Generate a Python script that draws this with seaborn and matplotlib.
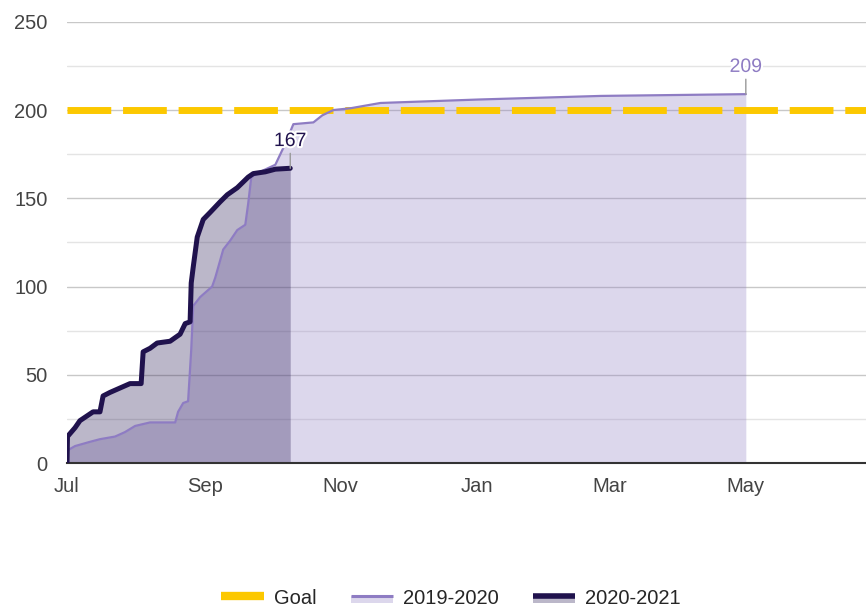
import matplotlib
matplotlib.use("Agg")
import matplotlib.pyplot as plt
import matplotlib.dates as mdates
import matplotlib.patheffects as pe
from matplotlib.lines import Line2D
from matplotlib.patches import Rectangle
import pandas as pd
import seaborn as sns

# days since Jul 1 of the season and cumulative totals
days_2019 = [0, 3.6, 10.3, 14.8, 21.6, 26, 30.6, 37.3, 48.6, 49.9, 52.2, 54.4,
             55.8, 56.7, 59.8, 65.2, 66.6, 70.2, 73.3, 76.5, 80.1, 81.4, 82.8,
             86.8, 93.6, 98.1, 101.7, 110.7, 114.7, 119.7, 127.3, 140.8, 185.8,
             239.8, 305]
vals_2019 = [7, 9.6, 12, 13.5, 15, 17.5, 21, 23, 23, 29, 34, 35,
             64, 89, 94, 100, 105, 121, 126, 132, 135, 147, 162,
             165, 169, 181, 192, 193, 197, 200, 201, 204, 206,
             208, 209]
days_2020 = [0, 0.2, 3.6, 5.8, 11.7, 14.8, 16.2, 19.3, 22.9, 28.3, 33.3, 34.2,
             37.3, 40.5, 46.3, 50.8, 53.1, 55.3, 55.8, 56.7, 58.5, 61.2, 64.3,
             68.8, 72, 76.5, 81.4, 83.7, 89.1, 93.6, 100.3]
vals_2020 = [0, 15, 20, 24, 29, 29, 38, 40, 42, 45, 45, 63,
             65, 68, 69, 73, 79, 80, 102, 111, 128, 138, 142,
             148, 152, 156, 162, 164, 165, 166.5, 167]
goal = 200
series_names = ["Goal", "2019-2020", "2020-2021"]

season_start = pd.Timestamp("2019-07-01")
df19 = pd.DataFrame({"date": season_start + pd.to_timedelta(days_2019, unit="D"),
                     "value": vals_2019})
df20 = pd.DataFrame({"date": season_start + pd.to_timedelta(days_2020, unit="D"),
                     "value": vals_2020})

c_goal = "#fcc800"
c_19 = "#8e7cc3"
c_20 = "#20124d"


class AreaLineHandler:
    """Legend key: a line sitting on top of a faded band, like the area series."""

    def __init__(self, color, lw):
        self.color = color
        self.lw = lw

    def legend_artist(self, legend, orig_handle, fontsize, handlebox):
        x0, y0 = handlebox.xdescent, handlebox.ydescent
        w, h = handlebox.width, handlebox.height
        mid = y0 + h / 2
        band = Rectangle((x0, mid - 4.5), w, 4.5, facecolor=self.color,
                         alpha=0.3, lw=0, transform=handlebox.get_transform())
        line = Line2D([x0, x0 + w], [mid + 0.5, mid + 0.5], color=self.color,
                      lw=self.lw, solid_capstyle="butt",
                      transform=handlebox.get_transform())
        handlebox.add_artist(band)
        handlebox.add_artist(line)
        return line


sns.set_theme(style="white")
plt.rcParams["font.family"] = ["Liberation Sans", "DejaVu Sans"]

fig = plt.figure(figsize=(8.66, 6.09), dpi=100)
ax = fig.add_axes([0.0774, 0.2397, 0.9226, 0.7245])

ax.fill_between(df19["date"], df19["value"], 0, color=c_19, alpha=0.3, lw=0, zorder=1)
ax.fill_between(df20["date"], df20["value"], 0, color=c_20, alpha=0.3, lw=0, zorder=1.1)

ax.axhline(goal, color=c_goal, lw=5, linestyle=(0, (6.3, 1.7)), zorder=2)

sns.lineplot(data=df19, x="date", y="value", color=c_19, lw=1.6, ax=ax, zorder=3)
sns.lineplot(data=df20, x="date", y="value", color=c_20, lw=3.6, ax=ax, zorder=4)

halo = [pe.withStroke(linewidth=3, foreground="white")]
for df, col in [(df20, c_20), (df19, c_19)]:
    last = df.iloc[-1]
    ax.annotate(f"{last['value']:.0f}", xy=(last["date"], last["value"]),
                xytext=(0, 16), textcoords="offset points", ha="center",
                va="baseline", fontsize=14, color=col, path_effects=halo,
                arrowprops=dict(arrowstyle="-", color="#999999", lw=1,
                                relpos=(0.5, 0), shrinkA=0, shrinkB=0),
                zorder=6)

ax.set_ylim(0, 250)
ax.set_xlim(season_start, season_start + pd.Timedelta(days=359))
ax.set_yticks(range(0, 251, 50))
ax.set_yticks(range(25, 250, 50), minor=True)
ax.xaxis.set_major_locator(mdates.MonthLocator(bymonth=[1, 3, 5, 7, 9, 11]))
ax.xaxis.set_major_formatter(mdates.DateFormatter("%b"))
ax.grid(which="major", axis="y", color="#c8c8c8", lw=1, zorder=0)
ax.grid(which="minor", axis="y", color="#e4e4e4", lw=1, zorder=0)
ax.set_axisbelow(True)
ax.tick_params(axis="y", which="both", length=0, pad=14, labelsize=14.5, labelcolor="#444444")
ax.tick_params(axis="x", which="both", length=0, pad=10, labelsize=14.5, labelcolor="#444444")
ax.set_xlabel("")
ax.set_ylabel("")
for s in ["top", "right", "left"]:
    ax.spines[s].set_visible(False)
ax.spines["bottom"].set_color("#333333")
ax.spines["bottom"].set_linewidth(1.5)

h_goal = Line2D([], [], color=c_goal, lw=6, solid_capstyle="butt")
h_19 = Line2D([], [], color=c_19)
h_20 = Line2D([], [], color=c_20)
fig.legend([h_goal, h_19, h_20], series_names, loc="center",
           bbox_to_anchor=(0.521, 0.018), ncol=3, frameon=False, fontsize=14.5,
           handlelength=2.1, handletextpad=0.5, columnspacing=1.7,
           borderpad=0.1, handler_map={h_19: AreaLineHandler(c_19, 2.2),
                                       h_20: AreaLineHandler(c_20, 4)})

fig.savefig("out.png", dpi=100)
